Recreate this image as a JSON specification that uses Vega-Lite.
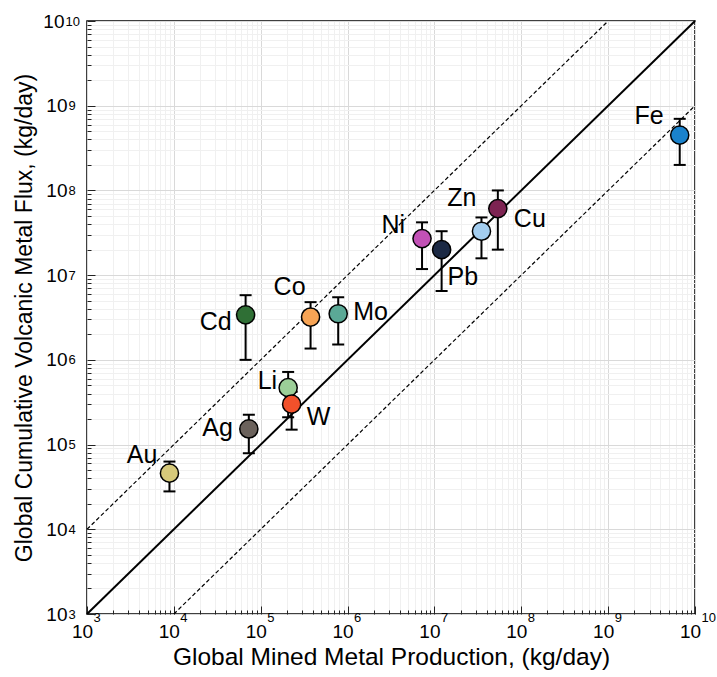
{
  "$schema": "https://vega.github.io/schema/vega-lite/v6.json",
  "width": 608,
  "height": 593,
  "autosize": "none",
  "padding": {"left": 87, "top": 21, "right": 22, "bottom": 63},
  "background": "white",
  "config": {
    "view": {"stroke": "black", "strokeWidth": 1.5},
    "font": "Liberation Sans",
    "axis": {"labelFont": "Liberation Sans", "titleFont": "Liberation Sans"}
  },
  "datasets": {
    "metals": [
      {"el": "Au", "x": 8900, "y": 46000, "lo": 28000, "hi": 63000},
      {"el": "Ag", "x": 73000, "y": 153000, "lo": 79000, "hi": 225000},
      {"el": "Cd", "x": 67000, "y": 3400000, "lo": 1000000, "hi": 5800000},
      {"el": "Li", "x": 207000, "y": 470000, "lo": 210000, "hi": 720000},
      {"el": "W", "x": 227000, "y": 300000, "lo": 150000, "hi": 420000},
      {"el": "Co", "x": 375000, "y": 3200000, "lo": 1360000, "hi": 4800000},
      {"el": "Mo", "x": 780000, "y": 3500000, "lo": 1520000, "hi": 5500000},
      {"el": "Ni", "x": 7200000, "y": 27000000, "lo": 11800000, "hi": 42000000},
      {"el": "Pb", "x": 12100000, "y": 20000000, "lo": 6500000, "hi": 33000000},
      {"el": "Zn", "x": 34800000, "y": 33000000, "lo": 15800000, "hi": 48000000},
      {"el": "Cu", "x": 53700000, "y": 61000000, "lo": 20000000, "hi": 100000000},
      {"el": "Fe", "x": 6670000000, "y": 450000000, "lo": 200000000, "hi": 700000000}
    ],
    "lines": [
      {"line": "1:1", "x": 1000, "y": 1000},
      {"line": "1:1", "x": 10000000000, "y": 10000000000},
      {"line": "upper", "x": 1000, "y": 10000},
      {"line": "upper", "x": 1000000000, "y": 10000000000},
      {"line": "lower", "x": 10000, "y": 1000},
      {"line": "lower", "x": 10000000000, "y": 1000000000}
    ]
  },
  "resolve": {"axis": {"x": "independent", "y": "independent"}},
  "layer": [
    {
      "data": {"name": "lines"},
      "mark": {"type": "point", "opacity": 0},
      "encoding": {
        "x": {"field": "x", "type": "quantitative",
          "scale": {"type": "log", "domain": [1000, 10000000000], "nice": false},
          "axis": {"orient": "bottom", "values": [1e3, 1e4, 1e5, 1e6, 1e7, 1e8, 1e9, 1e10],
            "labelExpr": "'' + round(log(datum.value)/LN10)",
            "labelFontSize": 13, "labelColor": "black", "labelAlign": "left", "labelBaseline": "middle",
            "labelOffset": 6, "labelPadding": 3, "labelOverlap": false, "labelFlush": false,
            "grid": false, "ticks": false, "domain": false, "title": null}},
        "y": {"field": "y", "type": "quantitative",
          "scale": {"type": "log", "domain": [1000, 10000000000], "nice": false},
          "axis": {"orient": "left", "values": [1e3, 1e4, 1e5, 1e6, 1e7, 1e8, 1e9, 1e10],
            "labelExpr": "'' + round(log(datum.value)/LN10)",
            "labelFontSize": 13, "labelColor": "black", "labelAlign": "left", "labelBaseline": "middle",
            "labelDy": -7,
            "labelPadding": {"condition": {"test": "datum.value > 5e9", "value": 22}, "value": 19},
            "labelOverlap": false, "labelFlush": false,
            "grid": false, "ticks": false, "domain": false, "title": null}}
      }
    },
    {
      "layer": [
        {
          "data": {"name": "lines"},
          "transform": [{"filter": "datum.line === '1:1'"}],
          "mark": {"type": "line", "color": "black", "strokeWidth": 2},
          "encoding": {
            "x": {"field": "x", "type": "quantitative",
              "scale": {"type": "log", "domain": [1000, 10000000000], "nice": false},
              "axis": {
                "orient": "bottom",
                "title": "Global Mined Metal Production, (kg/day)",
                "titleFontSize": 24.5, "titleFontWeight": "normal", "titleColor": "black", "titlePadding": 0,
                "values": [1e3,2e3,3e3,4e3,5e3,6e3,7e3,8e3,9e3,1e4,2e4,3e4,4e4,5e4,6e4,7e4,8e4,9e4,1e5,2e5,3e5,4e5,5e5,6e5,7e5,8e5,9e5,1e6,2e6,3e6,4e6,5e6,6e6,7e6,8e6,9e6,1e7,2e7,3e7,4e7,5e7,6e7,7e7,8e7,9e7,1e8,2e8,3e8,4e8,5e8,6e8,7e8,8e8,9e8,1e9,2e9,3e9,4e9,5e9,6e9,7e9,8e9,9e9,1e10],
                "labelExpr": "abs(log(datum.value)/LN10 - round(log(datum.value)/LN10)) < 0.01 ? '10' : ''",
                "labelFontSize": 19, "labelColor": "black", "labelOverlap": false, "labelFlush": false,
                "labelBaseline": "middle", "labelPadding": 25, "labelOffset": -5,
                "grid": true,
                "gridColor": {"condition": {"test": "abs(log(datum.value)/LN10 - round(log(datum.value)/LN10)) < 0.01", "value": "#d9d9d9"}, "value": "#f0f0f0"},
                "gridWidth": 1,
                "ticks": true,
                "tickSize": {"condition": {"test": "abs(log(datum.value)/LN10 - round(log(datum.value)/LN10)) < 0.01", "value": -8}, "value": -4},
                "tickColor": "#222", "tickWidth": 1,
                "domain": false
              }},
            "y": {"field": "y", "type": "quantitative",
              "scale": {"type": "log", "domain": [1000, 10000000000], "nice": false},
              "axis": {
                "orient": "left",
                "title": "Global Cumulative Volcanic Metal Flux, (kg/day)",
                "titleFontSize": 23, "titleFontWeight": "normal", "titleColor": "black", "titlePadding": 6,
                "values": [1e3,2e3,3e3,4e3,5e3,6e3,7e3,8e3,9e3,1e4,2e4,3e4,4e4,5e4,6e4,7e4,8e4,9e4,1e5,2e5,3e5,4e5,5e5,6e5,7e5,8e5,9e5,1e6,2e6,3e6,4e6,5e6,6e6,7e6,8e6,9e6,1e7,2e7,3e7,4e7,5e7,6e7,7e7,8e7,9e7,1e8,2e8,3e8,4e8,5e8,6e8,7e8,8e8,9e8,1e9,2e9,3e9,4e9,5e9,6e9,7e9,8e9,9e9,1e10],
                "labelExpr": "abs(log(datum.value)/LN10 - round(log(datum.value)/LN10)) < 0.01 ? '10' : ''",
                "labelFontSize": 19, "labelColor": "black", "labelOverlap": false, "labelFlush": false,
                "labelBaseline": "middle", "labelDy": 4,
                "labelPadding": {"condition": {"test": "datum.value > 5e9", "value": 31}, "value": 28},
                "grid": true,
                "gridColor": {"condition": {"test": "abs(log(datum.value)/LN10 - round(log(datum.value)/LN10)) < 0.01", "value": "#d9d9d9"}, "value": "#f0f0f0"},
                "gridWidth": 1,
                "ticks": true,
                "tickSize": {"condition": {"test": "abs(log(datum.value)/LN10 - round(log(datum.value)/LN10)) < 0.01", "value": -8}, "value": -4},
                "tickColor": "#222", "tickWidth": 1,
                "domain": false
              }}
          }
        },
        {
          "data": {"name": "lines"},
          "transform": [{"filter": "datum.line !== '1:1'"}],
          "mark": {"type": "line", "color": "black", "strokeWidth": 1.2, "strokeDash": [4, 2.5]},
          "encoding": {
            "x": {"field": "x", "type": "quantitative"},
            "y": {"field": "y", "type": "quantitative"},
            "detail": {"field": "line"}
          }
        },
        {
          "data": {"name": "metals"},
          "layer": [
            {
              "mark": {"type": "rule", "color": "black", "strokeWidth": 2},
              "encoding": {
                "x": {"field": "x", "type": "quantitative"},
                "y": {"field": "lo", "type": "quantitative"},
                "y2": {"field": "hi"}
              }
            },
            {
              "mark": {"type": "tick", "orient": "horizontal", "color": "black", "size": 12, "thickness": 2, "opacity": 1},
              "encoding": {
                "x": {"field": "x", "type": "quantitative"},
                "y": {"field": "lo", "type": "quantitative"}
              }
            },
            {
              "mark": {"type": "tick", "orient": "horizontal", "color": "black", "size": 12, "thickness": 2, "opacity": 1},
              "encoding": {
                "x": {"field": "x", "type": "quantitative"},
                "y": {"field": "hi", "type": "quantitative"}
              }
            },
            {
              "mark": {"type": "circle", "size": 330, "stroke": "black", "strokeWidth": 1.5, "opacity": 1},
              "encoding": {
                "x": {"field": "x", "type": "quantitative"},
                "y": {"field": "y", "type": "quantitative"},
                "color": {"field": "el", "type": "nominal", "legend": null,
                  "scale": {"domain": ["Au","Ag","Cd","Li","W","Co","Mo","Ni","Pb","Zn","Cu","Fe"],
                            "range": ["#d6c97a","#6b625c","#2f6f35","#9ccf98","#f2512b","#f7a455","#5ba996","#c251b6","#1b2944","#a3cdef","#7d2352","#1a82cc"]}}
              }
            },
            {"transform": [{"filter": "datum.el === 'Au'"}], "mark": {"type": "text", "align": "right", "baseline": "middle", "dx": -12, "dy": -18, "fontSize": 25, "font": "Liberation Sans", "color": "black"}, "encoding": {"x": {"field": "x", "type": "quantitative"}, "y": {"field": "y", "type": "quantitative"}, "text": {"field": "el"}}},
            {"transform": [{"filter": "datum.el === 'Ag'"}], "mark": {"type": "text", "align": "right", "baseline": "middle", "dx": -16, "dy": -1, "fontSize": 25, "font": "Liberation Sans", "color": "black"}, "encoding": {"x": {"field": "x", "type": "quantitative"}, "y": {"field": "y", "type": "quantitative"}, "text": {"field": "el"}}},
            {"transform": [{"filter": "datum.el === 'Cd'"}], "mark": {"type": "text", "align": "right", "baseline": "middle", "dx": -14, "dy": 7, "fontSize": 25, "font": "Liberation Sans", "color": "black"}, "encoding": {"x": {"field": "x", "type": "quantitative"}, "y": {"field": "y", "type": "quantitative"}, "text": {"field": "el"}}},
            {"transform": [{"filter": "datum.el === 'Li'"}], "mark": {"type": "text", "align": "right", "baseline": "middle", "dx": -11, "dy": -7, "fontSize": 25, "font": "Liberation Sans", "color": "black"}, "encoding": {"x": {"field": "x", "type": "quantitative"}, "y": {"field": "y", "type": "quantitative"}, "text": {"field": "el"}}},
            {"transform": [{"filter": "datum.el === 'W'"}], "mark": {"type": "text", "align": "left", "baseline": "middle", "dx": 15, "dy": 13, "fontSize": 25, "font": "Liberation Sans", "color": "black"}, "encoding": {"x": {"field": "x", "type": "quantitative"}, "y": {"field": "y", "type": "quantitative"}, "text": {"field": "el"}}},
            {"transform": [{"filter": "datum.el === 'Co'"}], "mark": {"type": "text", "align": "right", "baseline": "middle", "dx": -5, "dy": -30, "fontSize": 25, "font": "Liberation Sans", "color": "black"}, "encoding": {"x": {"field": "x", "type": "quantitative"}, "y": {"field": "y", "type": "quantitative"}, "text": {"field": "el"}}},
            {"transform": [{"filter": "datum.el === 'Mo'"}], "mark": {"type": "text", "align": "left", "baseline": "middle", "dx": 15, "dy": -2, "fontSize": 25, "font": "Liberation Sans", "color": "black"}, "encoding": {"x": {"field": "x", "type": "quantitative"}, "y": {"field": "y", "type": "quantitative"}, "text": {"field": "el"}}},
            {"transform": [{"filter": "datum.el === 'Ni'"}], "mark": {"type": "text", "align": "right", "baseline": "middle", "dx": -17, "dy": -14, "fontSize": 25, "font": "Liberation Sans", "color": "black"}, "encoding": {"x": {"field": "x", "type": "quantitative"}, "y": {"field": "y", "type": "quantitative"}, "text": {"field": "el"}}},
            {"transform": [{"filter": "datum.el === 'Pb'"}], "mark": {"type": "text", "align": "left", "baseline": "middle", "dx": 6, "dy": 27, "fontSize": 25, "font": "Liberation Sans", "color": "black"}, "encoding": {"x": {"field": "x", "type": "quantitative"}, "y": {"field": "y", "type": "quantitative"}, "text": {"field": "el"}}},
            {"transform": [{"filter": "datum.el === 'Zn'"}], "mark": {"type": "text", "align": "right", "baseline": "middle", "dx": -5, "dy": -33, "fontSize": 25, "font": "Liberation Sans", "color": "black"}, "encoding": {"x": {"field": "x", "type": "quantitative"}, "y": {"field": "y", "type": "quantitative"}, "text": {"field": "el"}}},
            {"transform": [{"filter": "datum.el === 'Cu'"}], "mark": {"type": "text", "align": "left", "baseline": "middle", "dx": 16, "dy": 10, "fontSize": 25, "font": "Liberation Sans", "color": "black"}, "encoding": {"x": {"field": "x", "type": "quantitative"}, "y": {"field": "y", "type": "quantitative"}, "text": {"field": "el"}}},
            {"transform": [{"filter": "datum.el === 'Fe'"}], "mark": {"type": "text", "align": "right", "baseline": "middle", "dx": -16, "dy": -19, "fontSize": 25, "font": "Liberation Sans", "color": "black"}, "encoding": {"x": {"field": "x", "type": "quantitative"}, "y": {"field": "y", "type": "quantitative"}, "text": {"field": "el"}}}
          ]
        }
      ]
    }
  ]
}
